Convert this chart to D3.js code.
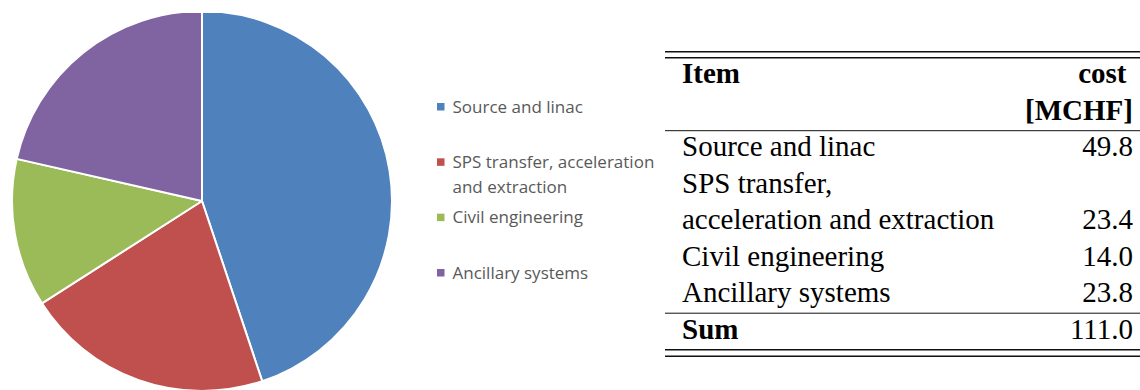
<!DOCTYPE html>
<html>
<head>
<meta charset="utf-8">
<script src="https://cdn.jsdelivr.net/npm/d3@7"></script>
<style>
  html, body { margin: 0; padding: 0; background: #fff; }
  svg { display: block; }
</style>
</head>
<body>
<svg width="1140" height="390"></svg>
<script>
// data
const items = ['Source and linac', 'SPS transfer, acceleration and extraction', 'Civil engineering', 'Ancillary systems']
const costs = [49.8, 23.4, 14.0, 23.8]
const colors = ['#4F81BD', '#C0504D', '#9BBB59', '#8064A2']
const legendLines = [['Source and linac'], ['SPS transfer, acceleration', 'and extraction'], ['Civil engineering'], ['Ancillary systems']]
const tableLines = [['Source and linac'], ['SPS transfer,', 'acceleration and extraction'], ['Civil engineering'], ['Ancillary systems']]
const headerItem = 'Item'
const headerCost = ['cost', '[MCHF]']
const sumLabel = 'Sum'

const svg = d3.select('svg')
const width = +svg.attr('width'),
      height = +svg.attr('height')

// pie
const cx = 202, cy = 201, radius = 190

svg.append('defs').append('clipPath')
    .attr('id', 'pieclip')
  .append('rect')
    .attr('x', 0).attr('y', 13)
    .attr('width', 420).attr('height', height - 13)

const pie = d3.pie().sort(null).value(d => d)
const arc = d3.arc().innerRadius(0).outerRadius(radius)

svg.append('g')
    .attr('clip-path', 'url(#pieclip)')
  .append('g')
    .attr('transform', `translate(${cx},${cy})`)
  .selectAll('path')
  .data(pie(costs))
  .join('path')
    .attr('d', arc)
    .attr('fill', (d, i) => colors[i])
    .attr('stroke', '#fff')
    .attr('stroke-width', 2)
    .attr('stroke-linejoin', 'round')

// legend
const legendY = d3.scalePoint()
    .domain(items)
    .range([106.7, 272.7])

const legend = svg.append('g')
    .attr('font-family', '"Open Sans", sans-serif')
    .attr('font-size', 17)
    .attr('fill', '#595959')

const entry = legend.selectAll('g')
  .data(items)
  .join('g')
    .attr('transform', d => `translate(437,${legendY(d)})`)

entry.append('rect')
    .attr('x', 0).attr('y', -3.7)
    .attr('width', 7.5).attr('height', 7.5)
    .attr('fill', (d, i) => colors[i])

entry.each(function (d, i) {
  d3.select(this).selectAll('text')
    .data(legendLines[i])
    .join('text')
      .attr('x', 15.5)
      .attr('y', (t, j) => j * 25)
      .attr('dy', '0.35em')
      .text(t => t)
})

// table
const tLeft = 665, tRight = 1140, textLeft = 682, numRight = 1133
const bs = 36.5, asc = 25.5, dsc = 11
const fmt = d3.format('.1f')

const table = svg.append('g')
    .attr('font-family', '"Liberation Serif", "Times New Roman", serif')
    .attr('font-size', 29)
    .attr('fill', '#000')

const rule = (y, w) => table.append('line')
    .attr('x1', tLeft).attr('x2', tRight)
    .attr('y1', y).attr('y2', y)
    .attr('stroke', '#111')
    .attr('stroke-width', w)

let y = 51.7
rule(y, 1.4)
y += 6
rule(y, 1.4)

// header
let base = y + asc
table.append('text')
    .attr('x', textLeft).attr('y', base)
    .attr('font-weight', 'bold')
    .text(headerItem)
headerCost.forEach((t, j) => {
  table.append('text')
      .attr('x', j === 0 ? numRight - 6.5 : numRight)
      .attr('y', base + j * bs)
      .attr('text-anchor', 'end')
      .attr('font-weight', 'bold')
      .text(t)
})
y = base + (headerCost.length - 1) * bs + dsc
rule(y, 1)

// body rows
base = y + asc
items.forEach((d, i) => {
  const lines = tableLines[i]
  lines.forEach((t, j) => {
    table.append('text')
        .attr('x', textLeft).attr('y', base + j * bs)
        .text(t)
  })
  const last = base + (lines.length - 1) * bs
  table.append('text')
      .attr('x', numRight).attr('y', last)
      .attr('text-anchor', 'end')
      .text(fmt(costs[i]))
  base = last + bs
})
y = base - bs + dsc
rule(y, 1)

// sum
base = y + asc
table.append('text')
    .attr('x', textLeft).attr('y', base)
    .attr('font-weight', 'bold')
    .text(sumLabel)
table.append('text')
    .attr('x', numRight).attr('y', base)
    .attr('text-anchor', 'end')
    .text(fmt(d3.sum(costs)))
y = base + dsc
rule(y, 1.4)
rule(y + 6.5, 1.4)
</script>
</body>
</html>
